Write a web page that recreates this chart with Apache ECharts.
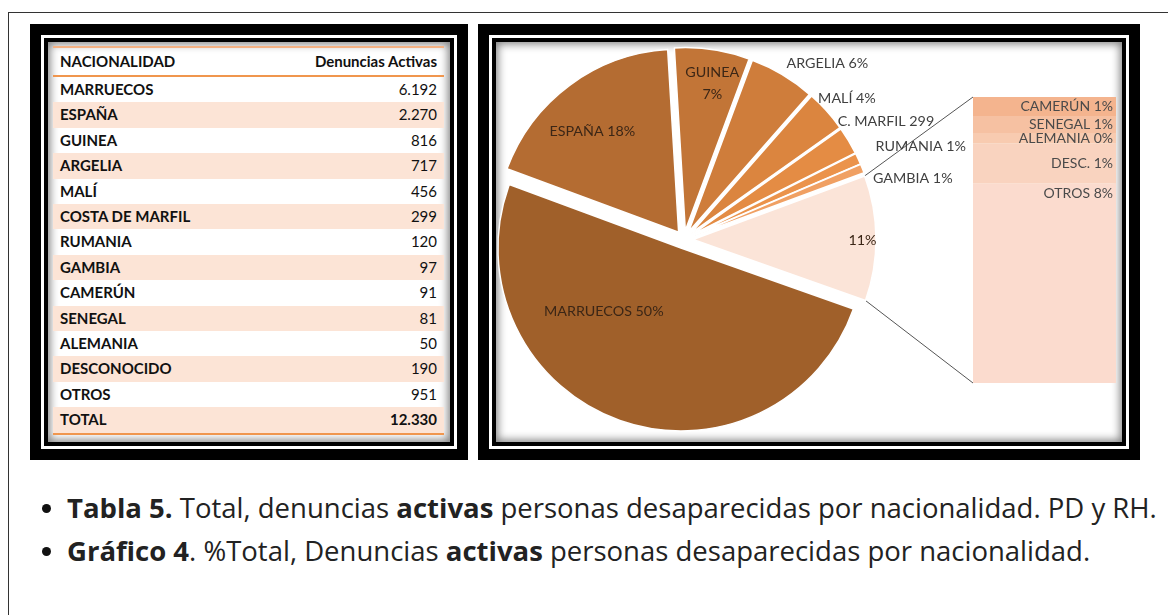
<!DOCTYPE html>
<html>
<head>
<meta charset="utf-8">
<script src="https://cdn.jsdelivr.net/npm/echarts@6.0.0/dist/echarts.min.js"></script>
<style>
  body { margin: 0; width: 1168px; height: 615px; background: #fff; position: relative; overflow: hidden; font-family: Lato, "Open Sans", sans-serif; }
  .outer { position: absolute; left: 8px; top: 12px; width: 1200px; height: 700px; border-left: 1.5px solid #333; border-top: 1.5px solid #333; }
  .frame { position: absolute; top: 24px; height: 436px; background: #000; }
  .frame .w { position: absolute; left: 11px; top: 11px; right: 11px; bottom: 11px; background: #fff; }
  .frame .b { position: absolute; left: 3px; top: 3px; right: 3px; bottom: 3px; background: #000; }
  .frame .c { position: absolute; left: 4px; top: 4px; right: 4px; bottom: 4px; background: #fff; box-shadow: inset 0 0 9px 2px rgba(0,0,0,0.5); }
  table { position: absolute; left: 5px; top: 4px; width: 391px; border-collapse: collapse; font-size: 15px; color: #111; }
  td, th { padding: 0 7px; height: 25.4px; line-height: 25.4px; }
  th { font-weight: 700; height: 27px; border-top: 2px solid #f4b183; border-bottom: 2.5px solid #f0964e; }
  td:first-child { font-weight: 700; text-align: left; }
  td:last-child, th:last-child { text-align: right; }
  th:first-child { text-align: left; }
  tr.odd td { background: #fce4d6; }
  tr.total td { font-weight: 700; border-bottom: 2.5px solid #f0964e; }
  .cap { position: absolute; left: 42px; font-family: "Open Sans", sans-serif; font-size: 27.5px; color: #222; white-space: nowrap; line-height: 36px; }
  .cap .dot { display: inline-block; width: 9px; height: 9px; border-radius: 50%; background: #111; margin-right: 16px; vertical-align: middle; position: relative; top: -2px; }
  #chart { position: absolute; left: 0; top: 0; width: 626px; height: 412px; }
</style>
</head>
<body>
<div class="outer"></div>
<div class="frame" style="left:30px;width:438px"><div class="w"><div class="b"><div class="c" id="tabla"></div></div></div></div>
<div class="frame" style="left:478px;width:662px"><div class="w"><div class="b"><div class="c"><div id="chart"></div></div></div></div></div>
<div class="cap" style="top:490px"><span class="dot"></span><b>Tabla 5.</b> Total, denuncias <b>activas</b> personas desaparecidas por nacionalidad. PD y RH.</div>
<div class="cap" style="top:533px"><span class="dot"></span><b>Gráfico 4</b>. %Total, Denuncias <b>activas</b> personas desaparecidas por nacionalidad.</div>
<script>
const nacionalidades = ['MARRUECOS', 'ESPAÑA', 'GUINEA', 'ARGELIA', 'MALÍ', 'COSTA DE MARFIL', 'RUMANIA', 'GAMBIA', 'CAMERÚN', 'SENEGAL', 'ALEMANIA', 'DESCONOCIDO', 'OTROS'];
const denuncias = [6192, 2270, 816, 717, 456, 299, 120, 97, 91, 81, 50, 190, 951];
const totalDenuncias = 12330;
// etiquetas tal como salen en el grafico
const pieLabels = ['MARRUECOS 50%', 'ESPAÑA 18%', 'GUINEA\n7%', 'ARGELIA 6%', 'MALÍ 4%', 'C. MARFIL 299', 'RUMANIA 1%', 'GAMBIA 1%', '11%'];
const barLabels = ['CAMERÚN 1%', 'SENEGAL 1%', 'ALEMANIA 0%', 'DESC. 1%', 'OTROS 8%'];
const numPie = 8; // el resto va a la barra

const pieColors = ['#a0602a', '#b46c32', '#c27537', '#cf7d3b', '#db853f', '#e48c44', '#eb934b', '#f0a063', '#fbe4d8'];
const barColors = ['#f4b48e', '#f6c1a2', '#f8cbb0', '#f9d3bf', '#fbdbce'];
const pieInside = [true, true, true, false, false, false, false, false, true];
const labelShift = [[-45, -25], [-30, -25], [13, -54], [-4, -6], [-18, -9], [-21, -16], [7, -10], [0, 12], [75, 2]];

const fmt = v => String(v).replace(/\B(?=(\d{3})+(?!\d))/g, '.');

// tabla
let html = '<table><tr><th>NACIONALIDAD</th><th>Denuncias Activas</th></tr>';
nacionalidades.forEach((n, i) => {
  html += '<tr class="' + (i % 2 ? 'odd' : '') + '"><td>' + n + '</td><td>' + fmt(denuncias[i]) + '</td></tr>';
});
html += '<tr class="odd total"><td>TOTAL</td><td>' + fmt(totalDenuncias) + '</td></tr></table>';
document.getElementById('tabla').innerHTML = html;

// grafico
const restoVals = denuncias.slice(numPie);
const restoSum = restoVals.reduce((a, b) => a + b, 0);
const pieData = denuncias.slice(0, numPie).concat([restoSum]).map((v, i) => ({
  value: v,
  name: i < numPie ? nacionalidades[i] : 'resto',
  selected: true,
  itemStyle: { color: pieColors[i] },
  label: {
    position: pieInside[i] ? 'inside' : 'outside',
    color: pieInside[i] ? '#3b2616' : '#404040'
  }
}));

const gridLeft = 477, gridTop = 55, gridW = 143, gridH = 286;
const barSeries = [];
for (let k = restoVals.length - 1; k >= 0; k--) {
  barSeries.push({
    type: 'bar',
    stack: 'resto',
    barWidth: '100%',
    data: [restoVals[k]],
    itemStyle: { color: barColors[k] },
    label: {
      show: true,
      position: k === restoVals.length - 1 ? 'insideTopRight' : 'insideRight',
      distance: 3,
      formatter: barLabels[k],
      color: '#4a4a4a',
      fontFamily: 'Lato',
      fontSize: 14
    },
    emphasis: { disabled: true }
  });
}

const chart = echarts.init(document.getElementById('chart'));
chart.setOption({
  animation: false,
  grid: { left: gridLeft, top: gridTop, width: gridW, height: gridH },
  xAxis: { type: 'category', data: ['resto'], show: false },
  yAxis: { type: 'value', min: 0, max: restoSum, show: false },
  series: [{
    type: 'pie',
    center: [188, 197.5],
    radius: 183,
    startAngle: -19.5,
    selectedMode: 'multiple',
    selectedOffset: 9,
    avoidLabelOverlap: false,
    itemStyle: { borderColor: '#fff', borderWidth: 1.5 },
    label: {
      formatter: p => pieLabels[p.dataIndex],
      fontFamily: 'Lato',
      fontSize: 14.3,
      lineHeight: 22
    },
    labelLine: { show: false, length: 6, length2: 0 },
    labelLayout: p => ({ dx: labelShift[p.dataIndex][0], dy: labelShift[p.dataIndex][1] }),
    emphasis: { disabled: true },
    data: pieData
  }].concat(barSeries)
});

// lineas de union entre la porcion "resto" y la barra
const lay = chart.getModel().getSeriesByIndex(0).getData().getItemLayout(numPie);
const mid = (lay.startAngle + lay.endAngle) / 2;
const ox = lay.cx + Math.cos(mid) * 9, oy = lay.cy + Math.sin(mid) * 9;
const yTop = chart.convertToPixel({ yAxisIndex: 0 }, restoSum);
const yBot = chart.convertToPixel({ yAxisIndex: 0 }, 0);
chart.setOption({
  graphic: [
    { type: 'line', shape: { x1: ox + lay.r * Math.cos(lay.startAngle), y1: oy + lay.r * Math.sin(lay.startAngle), x2: gridLeft, y2: yTop }, style: { stroke: '#555', lineWidth: 1 } },
    { type: 'line', shape: { x1: ox + lay.r * Math.cos(lay.endAngle), y1: oy + lay.r * Math.sin(lay.endAngle), x2: gridLeft, y2: yBot }, style: { stroke: '#555', lineWidth: 1 } }
  ]
});
</script>
</body>
</html>
